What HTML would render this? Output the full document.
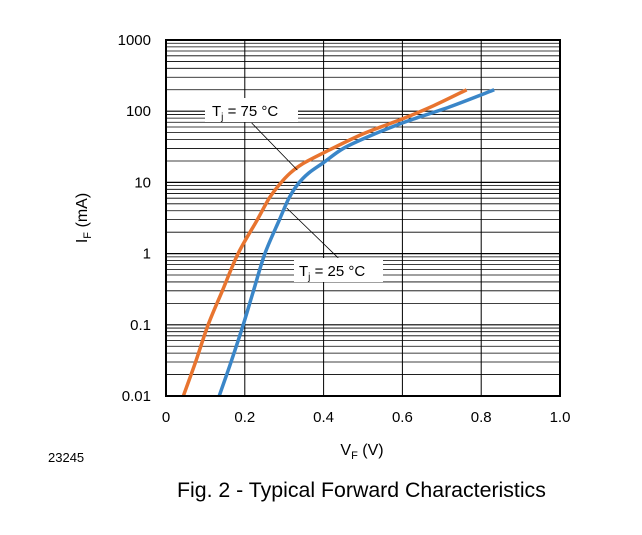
<!DOCTYPE html>
<html><head><meta charset="utf-8"><style>
body{margin:0;background:#fff;}
svg text{font-family:"Liberation Sans",Arial,sans-serif;fill:#000;}
</style></head><body>
<svg id="chart" width="642" height="530" viewBox="0 0 642 530" xmlns="http://www.w3.org/2000/svg">
<g id="grid"></g>
<g id="series"></g>
<g id="ticks"></g>
<rect x="166" y="40" width="394" height="356" fill="none" stroke="#000" stroke-width="2"/>
<line x1="251.7" y1="123" x2="297.3" y2="170" stroke="#000" stroke-width="0.8"/>
<line x1="286.7" y1="208" x2="338.3" y2="258" stroke="#000" stroke-width="0.8"/>
<g>
<rect x="205" y="98" width="93" height="24" fill="#fff"/>
<text x="212" y="116" font-size="15">T<tspan font-size="10" dy="4">j</tspan><tspan dy="-4"> = 75 °C</tspan></text>
</g>
<g>
<rect x="294" y="258" width="89" height="24" fill="#fff"/>
<text x="299" y="276" font-size="15">T<tspan font-size="10" dy="4">j</tspan><tspan dy="-4"> = 25 °C</tspan></text>
</g>
<text transform="translate(87,218) rotate(-90)" text-anchor="middle" font-size="16">I<tspan font-size="11" dy="4">F</tspan><tspan dy="-4"> (mA)</tspan></text>
<text x="362" y="455" text-anchor="middle" font-size="16">V<tspan font-size="11" dy="4">F</tspan><tspan dy="-4"> (V)</tspan></text>
<text x="48" y="462" font-size="13">23245</text>
<text x="177" y="497" font-size="21.3">Fig. 2 - Typical Forward Characteristics</text>
</svg>
<script>
const xTicks=[0,0.2,0.4,0.6,0.8,1.0];
const xTickLabels=["0","0.2","0.4","0.6","0.8","1.0"];
const yTicks=[0.01,0.1,1,10,100,1000];
const yTickLabels=["0.01","0.1","1","10","100","1000"];
const v75=[0.044,0.075,0.107,0.143,0.183,0.232,0.262,0.289,0.315,0.345,0.400,0.500,0.600,0.680,0.763];
const i75=[0.01,0.03,0.1,0.3,1,3,6,9.5,13.5,18,26,48,78,120,200];
const v25=[0.135,0.165,0.196,0.222,0.251,0.288,0.312,0.335,0.362,0.400,0.450,0.518,0.611,0.720,0.833];
const i25=[0.01,0.03,0.1,0.3,1,3,6,9.5,13.5,19,30,45,72,115,200];
const NS='http://www.w3.org/2000/svg';
const X0=166,X1=560,Y0=396,Y1=40;
function xs(v){return X0+(v-0)/(1-0)*(X1-X0);}
function ys(i){return Y0-(Math.log10(i)+2)/5*(Y0-Y1);}
const grid=document.getElementById('grid');
for(let d=-2;d<3;d++){for(let m=1;m<10;m++){
 const y=ys(m*Math.pow(10,d));
 const l=document.createElementNS(NS,'line');
 
 
 l.setAttribute('x1',X0);l.setAttribute('x2',X1);l.setAttribute('y1',y);l.setAttribute('y2',y);
 l.setAttribute('stroke','#000');l.setAttribute('stroke-width',m==1?1.2:0.8);grid.appendChild(l);}}
xTicks.forEach(v=>{const x=xs(v);const l=document.createElementNS(NS,'line');
 
 
 l.setAttribute('x1',x);l.setAttribute('x2',x);l.setAttribute('y1',Y1);l.setAttribute('y2',Y0);
 l.setAttribute('stroke','#000');l.setAttribute('stroke-width',1);grid.appendChild(l);});
const ticks=document.getElementById('ticks');
xTicks.forEach((v,k)=>{const t=document.createElementNS(NS,'text');
 
 
 t.setAttribute('x',xs(v));t.setAttribute('y',422);t.setAttribute('text-anchor','middle');t.setAttribute('font-size','15');
 t.textContent=xTickLabels[k];ticks.appendChild(t);});
yTicks.forEach((v,k)=>{const t=document.createElementNS(NS,'text');
 
 
 t.setAttribute('x',151);t.setAttribute('y',ys(v)+5);t.setAttribute('text-anchor','end');t.setAttribute('font-size','15');
 t.textContent=yTickLabels[k];ticks.appendChild(t);});
function curve(vs,is){
 const p=vs.map((v,k)=>[xs(v),ys(is[k])]);
 let d='M'+p[0][0]+','+p[0][1];
 for(let k=0;k<p.length-1;k++){
  const p0=p[k-1]||p[k],p1=p[k],p2=p[k+1],p3=p[k+2]||p2;
  const c1=[p1[0]+(p2[0]-p0[0])/6,p1[1]+(p2[1]-p0[1])/6];
  const c2=[p2[0]-(p3[0]-p1[0])/6,p2[1]-(p3[1]-p1[1])/6];
  d+=' C'+c1+' '+c2+' '+p2;}
 return d;}
const ser=document.getElementById('series');
[[v75,i75,'#e8742f','curve-tj-75'],[v25,i25,'#3a86c8','curve-tj-25']].forEach(s=>{
 const p=document.createElementNS(NS,'path');
 
 
 p.setAttribute('d',curve(s[0],s[1]));p.setAttribute('fill','none');
 p.setAttribute('stroke',s[2]);p.setAttribute('stroke-width','3.5');
 p.setAttribute('stroke-linejoin','round');
 ser.appendChild(p);});
</script>
</body></html>
